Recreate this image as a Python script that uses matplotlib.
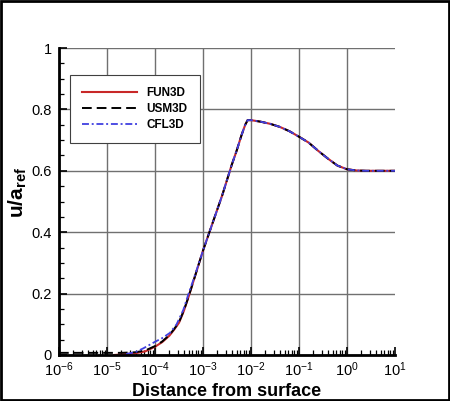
import numpy as np
import matplotlib
matplotlib.use("Agg")
import matplotlib.pyplot as plt
from matplotlib.ticker import LogLocator, FixedLocator, NullFormatter, LogFormatterMathtext
from matplotlib.patches import Rectangle

plt.rcParams['font.family'] = ['Liberation Sans', 'DejaVu Sans']
plt.rcParams['mathtext.fontset'] = 'custom'
plt.rcParams['mathtext.rm'] = 'Liberation Sans'
plt.rcParams['mathtext.it'] = 'Liberation Sans:italic'
plt.rcParams['mathtext.bf'] = 'Liberation Sans:bold'
plt.rcParams['lines.scale_dashes'] = False

# ---- data (log10 of distance, u/a_ref) ----
fun3d_logx = [-4.85, -4.6, -4.4, -4.2, -4.0, -3.85, -3.7, -3.6, -3.5, -3.4, -3.3, -3.2,
              -3.1, -3.0, -2.9, -2.8, -2.7, -2.6, -2.5, -2.4, -2.3, -2.2, -2.12, -2.07,
              -2.0, -1.8, -1.6, -1.4, -1.2, -1.0, -0.8, -0.6, -0.4, -0.2, 0.0, 0.2, 0.4, 1.0]
fun3d_u = [0.0, 0.003, 0.006, 0.012, 0.027, 0.042, 0.063, 0.083, 0.105, 0.143, 0.19, 0.24,
           0.29, 0.34, 0.385, 0.43, 0.475, 0.52, 0.57, 0.62, 0.665, 0.715, 0.75, 0.765,
           0.765, 0.760, 0.753, 0.743, 0.729, 0.711, 0.692, 0.665, 0.640, 0.617, 0.605, 0.601, 0.600, 0.600]

usm3d_logx = [-6.0, -5.5, -5.0, -4.7, -4.4, -4.2, -4.0, -3.85, -3.7, -3.6, -3.5, -3.4, -3.3, -3.2,
              -3.1, -3.0, -2.9, -2.8, -2.7, -2.6, -2.5, -2.4, -2.3, -2.2, -2.12, -2.07,
              -2.0, -1.8, -1.6, -1.4, -1.2, -1.0, -0.8, -0.6, -0.4, -0.2, 0.0, 0.2, 0.4, 1.0]
usm3d_u = [0.007, 0.007, 0.007, 0.007, 0.009, 0.015, 0.029, 0.044, 0.065, 0.085, 0.107, 0.145, 0.19, 0.24,
           0.29, 0.34, 0.385, 0.43, 0.475, 0.52, 0.57, 0.62, 0.665, 0.715, 0.75, 0.765,
           0.765, 0.760, 0.753, 0.743, 0.729, 0.711, 0.692, 0.665, 0.640, 0.617, 0.605, 0.601, 0.600, 0.600]

cfl3d_logx = [-4.6, -4.4, -4.24, -4.0, -3.85, -3.69, -3.55, -3.41, -3.3, -3.2, -3.1, -3.0,
              -2.9, -2.8, -2.7, -2.6, -2.5, -2.4, -2.3, -2.2, -2.12, -2.07,
              -2.0, -1.8, -1.6, -1.4, -1.2, -1.0, -0.8, -0.6, -0.4, -0.2, 0.0, 0.2, 0.4, 1.0]
cfl3d_u = [0.003, 0.01, 0.022, 0.043, 0.055, 0.072, 0.10, 0.147, 0.20, 0.245, 0.292, 0.34,
           0.385, 0.43, 0.475, 0.52, 0.57, 0.62, 0.665, 0.715, 0.75, 0.765,
           0.765, 0.760, 0.753, 0.743, 0.729, 0.711, 0.692, 0.665, 0.640, 0.617, 0.605, 0.601, 0.600, 0.600]

labels = ['FUN3D', 'USM3D', 'CFL3D']
xlabel = 'Distance from surface'
ylabel = r'$\mathbf{u/a_{ref}}$'
yticks = [0, 0.2, 0.4, 0.6, 0.8, 1.0]
yticklabels = ['0', '0.2', '0.4', '0.6', '0.8', '1']

fig = plt.figure(figsize=(4.5, 4.01), dpi=100)
ax = fig.add_axes([59/450, 46/401, 336/450, 307/401])

ax.plot(10**np.array(fun3d_logx), fun3d_u, color='#c82828', lw=1.5, label=labels[0], zorder=3)
ax.plot(10**np.array(usm3d_logx), usm3d_u, color='black', lw=1.4, dashes=(7, 3.6), label=labels[1], zorder=4)
ax.plot(10**np.array(cfl3d_logx), cfl3d_u, color='#4040e0', lw=1.3, dashes=(5, 2, 1.4, 2), label=labels[2], zorder=5)

ax.set_xscale('log')
ax.set_xlim(1e-6, 1e1)
ax.set_ylim(0, 1)

ax.xaxis.set_major_locator(LogLocator(base=10, numticks=20))
ax.xaxis.set_minor_locator(LogLocator(base=10, subs=np.arange(2, 10), numticks=100))
ax.xaxis.set_major_formatter(LogFormatterMathtext())
ax.xaxis.set_minor_formatter(NullFormatter())
ax.yaxis.set_major_locator(FixedLocator(yticks))
ax.set_yticklabels(yticklabels)
ax.yaxis.set_minor_locator(FixedLocator(np.arange(0, 1.0001, 0.05)))

ax.tick_params(which='major', direction='in', length=6, width=1.2, labelsize=10.5, pad=5,
               top=False, right=False)
ax.tick_params(axis='x', which='major', pad=4)
ax.tick_params(which='minor', direction='in', length=3.5, width=0.9, top=False, right=False)

for s in ['top', 'right']:
    ax.spines[s].set_visible(False)
for s in ['left', 'bottom']:
    ax.spines[s].set_linewidth(2)
    ax.spines[s].set_zorder(6)

ax.grid(True, which='major', color='#707070', lw=1.0)
ax.set_axisbelow(True)
# hide gridline at the right edge
xgl = ax.get_xgridlines()
for gl, t in zip(xgl, ax.get_xticks()):
    if t >= 10:
        gl.set_visible(False)

ax.set_xlabel(xlabel, fontsize=13, fontweight='bold', labelpad=3)
ax.set_ylabel(ylabel, fontsize=15)
ax.yaxis.set_label_coords(-0.09, 0.53)

leg = ax.legend(loc='upper left', bbox_to_anchor=(0.033, 0.912), borderaxespad=0,
                prop={'weight': 'bold', 'size': 8.5}, handlelength=4.6, handletextpad=0.8,
                labelspacing=0.32, borderpad=1.05, fancybox=False, framealpha=1,
                edgecolor='#404040')
leg.get_frame().set_linewidth(0.8)

fig.patches.append(Rectangle((0.002, 0.002), 0.996, 0.996, transform=fig.transFigure,
                             fill=False, edgecolor='black', lw=2))

fig.savefig('out.png', dpi=100)
